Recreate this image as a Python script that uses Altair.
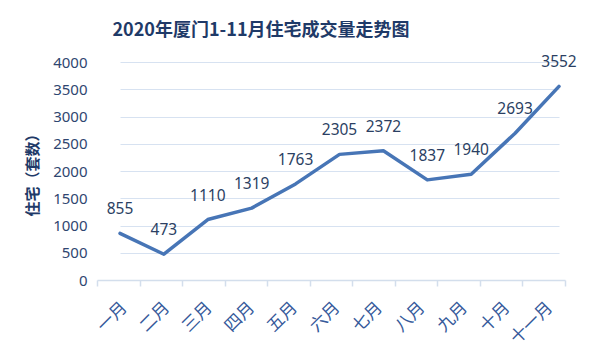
import altair as alt
import pandas as pd

months = ["一月", "二月", "三月", "四月", "五月", "六月", "七月", "八月", "九月", "十月", "十一月"]
values = [855, 473, 1110, 1319, 1763, 2305, 2372, 1837, 1940, 2693, 3552]
y_ticks = [0, 500, 1000, 1500, 2000, 2500, 3000, 3500, 4000]

df = pd.DataFrame({"month": months, "value": values})

NUM_FONT = "Noto Sans"
CJK_FONT = "Noto Sans CJK SC"

x_line = alt.X("month:N", sort=months,
               scale=alt.Scale(type="point", range=[23, 462], padding=0),
               axis=None)

y_enc = alt.Y("value:Q",
              scale=alt.Scale(domain=[0, 4000]),
              axis=alt.Axis(values=y_ticks, tickCount=9, title="住宅（套数）",
                            format="d",
                            ticks=False, domain=False, labelOverlap=False,
                            grid=True, gridColor="#d7e2f1", gridWidth=1,
                            labelFont=NUM_FONT, labelFontSize=15,
                            labelColor="#2f4670", labelPadding=10,
                            titleFont=CJK_FONT, titleFontSize=15,
                            titleFontWeight="bold", titleColor="#1f3a68",
                            titleX=-65, titleY=109, titleAngle=-90,
                            titleAlign="center", titleBaseline="middle"))

axis_layer = alt.Chart(df).mark_rule(opacity=0).encode(
    x=alt.X("month:N", sort=months,
            scale=alt.Scale(type="band", paddingInner=0, paddingOuter=0),
            axis=alt.Axis(title=None, orient="bottom", tickBand="extent",
                          domainColor="#d3deec", domainWidth=1.5,
                          tickColor="#d3deec", tickWidth=1.5, tickSize=6,
                          labelAngle=-45, labelFont=CJK_FONT,
                          labelFontSize=17, labelColor="#35599a",
                          labelPadding=13, grid=False))
)

line = alt.Chart(df).mark_line(color="#4775b6", strokeWidth=3.5,
                               strokeCap="round", strokeJoin="round").encode(
    x=x_line, y=y_enc)

labels = alt.Chart(df).mark_text(font=NUM_FONT, fontSize=15.5,
                                 color="#2b3f63", baseline="alphabetic",
                                 dy=-19).encode(
    x=x_line, y=y_enc, text=alt.Text("value:Q"))

chart = alt.layer(axis_layer, line, labels).resolve_scale(
    x="independent"
).properties(
    width=468, height=218,
    autosize=alt.AutoSizeParams(type="none"),
    padding={"left": 89, "top": 54, "right": 27, "bottom": 72},
    title=alt.TitleParams("2020年厦门1-11月住宅成交量走势图",
                          font=CJK_FONT, fontSize=18, fontWeight="bold",
                          color="#1f3a68", anchor="middle", dx=-70,
                          frame="group", baseline="alphabetic", offset=1),
    background="white"
).configure_view(stroke=None)

chart.save("out.html", embed_options={"renderer": "svg", "actions": False})
